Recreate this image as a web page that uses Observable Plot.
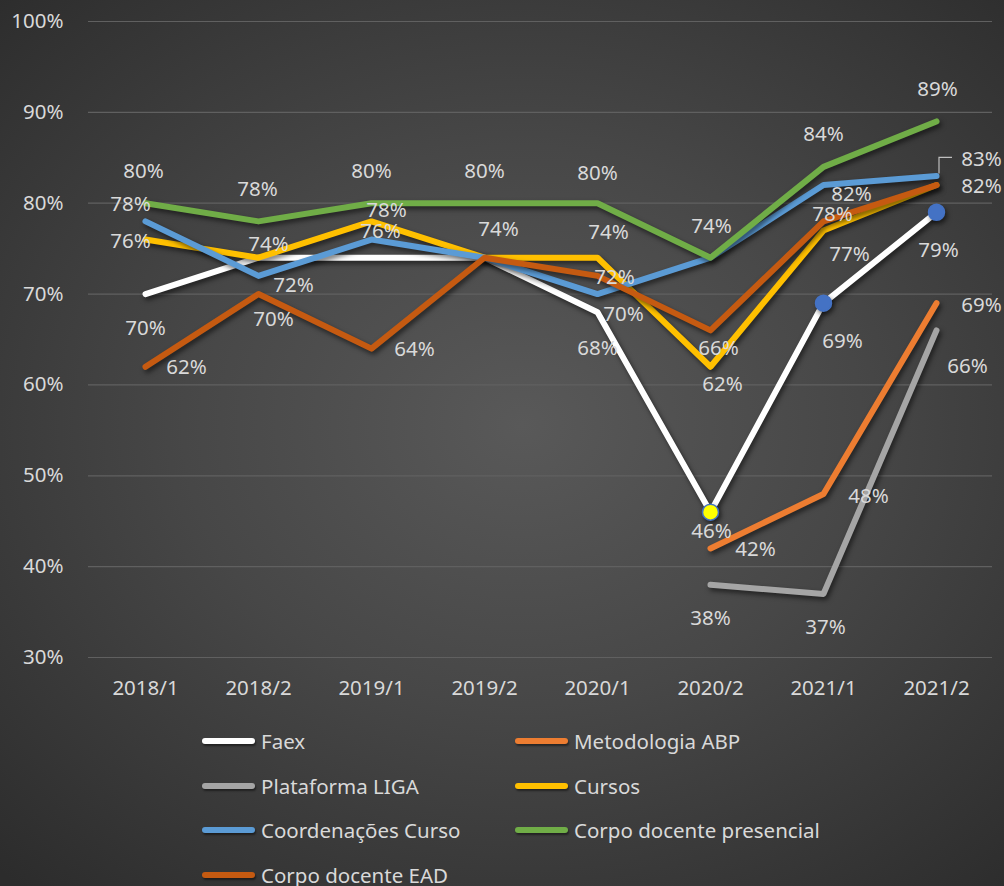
<!DOCTYPE html>
<html>
<head>
<meta charset="utf-8">
<script src="https://cdn.jsdelivr.net/npm/d3@7"></script>
<script src="https://cdn.jsdelivr.net/npm/@observablehq/plot@0.6"></script>
<style>
  html, body { margin: 0; padding: 0; }
  body {
    width: 1004px; height: 886px; overflow: hidden;
    background: radial-gradient(ellipse 75% 70% at 52% 48%, #595959 0%, #474747 45%, #2c2c2c 100%);
    font-family: "Noto Sans", sans-serif;
  }
  #chart svg { display: block; }
  #legend {
    display: grid;
    grid-template-columns: 313px auto;
    grid-auto-rows: 44.5px;
    padding-left: 202px;
    padding-top: 4px;
    color: #d9d9d9;
    font-size: 20.5px;
  }
  .item { display: flex; align-items: center; }
  .sw { width: 53px; height: 6px; border-radius: 3px; margin-right: 6px; box-shadow: 1px 2px 2px rgba(0,0,0,0.45); }
</style>
</head>
<body>
<div id="chart"></div>
<div id="legend"></div>
<script>
// ---- data ----
const periods = ["2018/1", "2018/2", "2019/1", "2019/2", "2020/1", "2020/2", "2021/1", "2021/2"];
const seriesNames = ["Faex", "Metodologia ABP", "Plataforma LIGA", "Cursos", "Coordenações Curso", "Corpo docente presencial", "Corpo docente EAD"];
const seriesColors = ["#FFFFFF", "#ED7D31", "#A5A5A5", "#FFC000", "#5B9BD5", "#70AD47", "#C55A11"];
const faex       = [70, 74, 74, 74, 68, 46, 69, 79];
const abp        = [null, null, null, null, null, 42, 48, 69];
const liga       = [null, null, null, null, null, 38, 37, 66];
const cursos     = [76, 74, 78, 74, 74, 62, 77, 82];
const coord      = [78, 72, 76, 74, 70, 74, 82, 83];
const presencial = [80, 78, 80, 80, 80, 74, 84, 89];
const ead        = [62, 70, 64, 74, 72, 66, 78, 82];
const yTicks = [30, 40, 50, 60, 70, 80, 90, 100];
// highlighted Faex points
const markerPeriods = ["2020/2", "2021/1", "2021/2"];
const markerFills = ["#FFFF00", "#4472C4", "#4472C4"];

// ---- layout: label offsets (px) per series point, null = no label ----
const faexLabelOffsets = [[0,34], null, null, null, [0,36], [1,19], [19,38], [2,38]];
const abpLabelOffsets  = [null, null, null, null, null, [45,1], [45,2], [45,2]];
const ligaLabelOffsets = [null, null, null, null, null, [0,34], [2,34], [31,36]];
const cursosLabelOffsets = [[-15,2], [10,-13], [15,-11], [14,-28], [11,-25], [12,18], [26,24], null];
const coordLabelOffsets  = [[-15,-17], [35,10], [9,-8], null, [26,20], null, [28,9], [45,-17]];
const presLabelOffsets   = [[-2,-32], [-1,-32], [0,-32], [0,-32], [0,-30], [1,-31], [0,-32], [1,-32]];
const eadLabelOffsets    = [[41,1], [15,25], [43,1], null, [17,2], [8,18], [9,-7], [45,1]];

const allValues = [faex, abp, liga, cursos, coord, presencial, ead];
const allOffsets = [faexLabelOffsets, abpLabelOffsets, ligaLabelOffsets, cursosLabelOffsets, coordLabelOffsets, presLabelOffsets, eadLabelOffsets];
const FS = 20.5;

const rows = [];
seriesNames.forEach((s, si) => {
  periods.forEach((p, pi) => {
    const v = allValues[si][pi];
    if (v != null) rows.push({series: s, period: p, value: v, si, pi});
  });
});

const marks = [];
marks.push(Plot.ruleY(yTicks, {stroke: "#606060", strokeWidth: 1.2}));
seriesNames.forEach((s, si) => {
  marks.push(Plot.line(rows.filter(d => d.series === s), {
    x: "period", y: "value", stroke: seriesColors[si], strokeWidth: 6,
    strokeLinecap: "round", strokeLinejoin: "round"
  }));
});
// markers on Faex
const markerRows = markerPeriods.map((p, i) => ({period: p, value: faex[periods.indexOf(p)], fill: markerFills[i]}));
marks.push(Plot.dot(markerRows, {x: "period", y: "value", r: 8, fill: d => d.fill, stroke: "#4472C4", strokeWidth: 1.5}));
// leader line for Coordenações 2021/2 label
marks.push((index, scales) => {
  const x = scales.x("2021/2"), y = scales.y(coord[7]);
  const p = document.createElementNS("http://www.w3.org/2000/svg", "path");
  p.setAttribute("d", `M${x+3},${y-2}V${y-18}H${x+16}`);
  p.setAttribute("stroke", "#bfbfbf");
  p.setAttribute("stroke-width", "1.2");
  p.setAttribute("fill", "none");
  return p;
});
// data labels
rows.forEach(d => {
  const off = allOffsets[d.si][d.pi];
  if (!off) return;
  marks.push(Plot.text([d], {x: "period", y: "value", text: d => d.value + "%", dx: off[0], dy: off[1], fill: "#d9d9d9", fontSize: FS}));
});
marks.push(Plot.axisX({tickSize: 0, tickPadding: 23, fontSize: FS, color: "#d9d9d9"}));
marks.push(Plot.axisY({ticks: yTicks, tickSize: 0, tickPadding: 25, tickFormat: d => d + "%", fontSize: FS, color: "#d9d9d9"}));

const chart = Plot.plot({
  width: 1004,
  height: 715,
  marginTop: 21,
  marginBottom: 58,
  marginLeft: 88,
  marginRight: 12,
  style: {background: "transparent", color: "#d9d9d9", fontFamily: "Noto Sans", fontSize: FS + "px"},
  x: {type: "point", domain: periods, padding: 0.5, label: null},
  y: {domain: [30, 100], label: null},
  marks
});
d3.select(chart).selectAll("g[aria-label=line] path, g[aria-label=dot] circle")
  .style("filter", "drop-shadow(2px 3px 2.5px rgba(0,0,0,0.55))");
document.getElementById("chart").appendChild(chart);

// legend
const legend = d3.select("#legend");
seriesNames.forEach((s, i) => {
  const it = legend.append("div").attr("class", "item");
  it.append("span").attr("class", "sw").style("background", seriesColors[i]);
  it.append("span").text(s);
});
</script>
</body>
</html>
